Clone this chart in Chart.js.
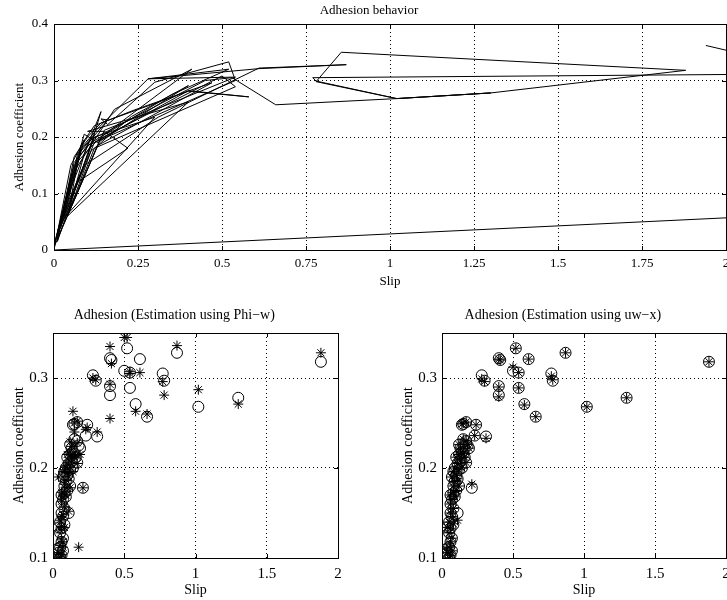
<!DOCTYPE html>
<html>
<head>
<meta charset="utf-8">
<script src="https://cdn.jsdelivr.net/npm/chart.js@4/dist/chart.umd.min.js"></script>
<style>
  html, body { margin: 0; padding: 0; background: #fff; overflow: hidden; }
  body { width: 727px; height: 600px; position: relative; }
  canvas { position: absolute; }
  #topChart { left: 0; top: 0; }
  #leftChart { left: 0; top: 300px; }
  #rightChart { left: 360px; top: 300px; }
</style>
</head>
<body>
<canvas id="topChart" width="780" height="300"></canvas>
<canvas id="leftChart" width="391" height="300"></canvas>
<canvas id="rightChart" width="448" height="300"></canvas>
<script>
// top plot: the measured slip / adhesion trajectory, in time order
const pathSlip = [
  2.60, 0.00, 0.05, 0.09, 0.02, 0.07, 0.12, 0.01, 0.06, 0.10,
  0.14, 0.40, 0.58, 0.40, 0.12, 0.03, 0.08, 0.13, 0.28, 0.54,
  0.15, 0.00, 0.05, 0.11, 0.18, 0.41, 0.14, 0.04, 0.09, 0.14,
  0.10, 0.02, 0.06, 0.13, 0.50, 0.54, 0.12, 0.07, 0.01, 0.08,
  0.16, 0.14, 0.16, 0.30, 0.52, 0.54, 0.10, 0.03, 0.09, 0.13,
  0.40, 0.23, 0.11, 0.04, 0.40, 0.10, 0.15, 0.22, 0.07, 0.02,
  0.30, 0.12, 0.05, 0.08, 0.12, 0.24, 0.47, 0.13, 0.01, 0.06,
  0.11, 0.35, 0.52, 0.28, 0.61, 0.87, 0.61, 0.31, 0.09, 0.00,
  0.07, 0.11, 0.45, 0.53, 0.66, 1.02, 1.30, 1.02, 1.30, 1.88,
  0.855, 0.78, 1.02, 0.78, 0.77, 2.30, 1.94
];
const pathAdh = [
  0.074, 0.000, 0.150, 0.195, 0.040, 0.170, 0.205, 0.015, 0.165, 0.200,
  0.225, 0.281, 0.271, 0.282, 0.190, 0.060, 0.180, 0.215, 0.303, 0.306,
  0.212, 0.005, 0.130, 0.185, 0.249, 0.320, 0.200, 0.060, 0.170, 0.245,
  0.165, 0.055, 0.150, 0.195, 0.308, 0.289, 0.180, 0.105, 0.030, 0.175,
  0.230, 0.232, 0.222, 0.297, 0.333, 0.300, 0.185, 0.080, 0.205, 0.190,
  0.291, 0.236, 0.175, 0.060, 0.262, 0.210, 0.210, 0.180, 0.120, 0.050,
  0.235, 0.200, 0.090, 0.185, 0.220, 0.248, 0.296, 0.185, 0.020, 0.155,
  0.190, 0.275, 0.320, 0.303, 0.321, 0.328, 0.322, 0.235, 0.150, 0.010,
  0.160, 0.195, 0.300, 0.305, 0.257, 0.268, 0.278, 0.268, 0.278, 0.318,
  0.350, 0.298, 0.268, 0.299, 0.305, 0.312, 0.362
];

// bottom plots: measured samples (circles) and the two estimators (stars)
const slip = [
  0.28, 0.30, 0.40, 0.41, 0.40, 0.40, 0.50, 0.52, 0.54, 0.54,
  0.58, 0.61, 0.66, 0.77, 0.78, 0.87, 1.02, 1.30, 1.88, 0.31,
  0.23, 0.24, 0.17, 0.14, 0.15, 0.21, 0.18, 0.19, 0.17, 0.16,
  0.17, 0.15, 0.05, 0.06, 0.04, 0.07, 0.05, 0.06, 0.07, 0.05,
  0.06, 0.08, 0.05, 0.07, 0.06, 0.08, 0.06, 0.07, 0.09, 0.08,
  0.10, 0.08, 0.09, 0.11, 0.10, 0.08, 0.12, 0.09, 0.11, 0.13,
  0.10, 0.12, 0.14, 0.13, 0.12, 0.04, 0.03, 0.11, 0.12, 0.14,
  0.06, 0.07, 0.15
];
const adhesion = [
  0.303, 0.297, 0.322, 0.320, 0.291, 0.281, 0.308, 0.333, 0.306, 0.289,
  0.271, 0.321, 0.257, 0.305, 0.297, 0.328, 0.268, 0.278, 0.318, 0.235,
  0.236, 0.248, 0.251, 0.248, 0.249, 0.178, 0.225, 0.222, 0.230, 0.212,
  0.206, 0.232, 0.100, 0.103, 0.106, 0.108, 0.112, 0.118, 0.122, 0.128,
  0.133, 0.137, 0.140, 0.146, 0.150, 0.155, 0.160, 0.165, 0.168, 0.172,
  0.175, 0.180, 0.185, 0.188, 0.192, 0.196, 0.198, 0.200, 0.205, 0.208,
  0.212, 0.215, 0.218, 0.222, 0.226, 0.134, 0.110, 0.150, 0.180, 0.200,
  0.170, 0.190, 0.216
];
const phiEst = [
  0.300, 0.298, 0.335, 0.316, 0.293, 0.255, 0.345, 0.345, 0.307, 0.305,
  0.263, 0.306, 0.260, 0.296, 0.281, 0.336, 0.287, 0.271, 0.328, 0.240,
  0.243, 0.245, 0.252, 0.263, 0.250, 0.178, 0.112, 0.215, 0.228, 0.214,
  0.205, 0.240, 0.101, 0.104, 0.106, 0.112, 0.114, 0.121, 0.118, 0.131,
  0.135, 0.134, 0.142, 0.148, 0.146, 0.157, 0.163, 0.168, 0.170, 0.171,
  0.178, 0.182, 0.187, 0.190, 0.195, 0.198, 0.201, 0.203, 0.208, 0.211,
  0.215, 0.218, 0.215, 0.224, 0.229, 0.190, 0.104, 0.152, 0.178, 0.196,
  0.173, 0.196, 0.213
];
const uwEst = [
  0.299, 0.296, 0.321, 0.320, 0.290, 0.279, 0.312, 0.333, 0.306, 0.289,
  0.270, 0.321, 0.257, 0.302, 0.298, 0.328, 0.268, 0.278, 0.318, 0.233,
  0.236, 0.248, 0.251, 0.249, 0.250, 0.182, 0.226, 0.222, 0.230, 0.212,
  0.206, 0.232, 0.100, 0.103, 0.106, 0.108, 0.112, 0.118, 0.122, 0.128,
  0.133, 0.138, 0.140, 0.146, 0.150, 0.155, 0.160, 0.165, 0.168, 0.173,
  0.175, 0.180, 0.185, 0.188, 0.192, 0.196, 0.198, 0.200, 0.205, 0.208,
  0.212, 0.215, 0.218, 0.222, 0.226, 0.134, 0.110, 0.142, 0.180, 0.200,
  0.170, 0.190, 0.216
];

const topXTicks = [0, 0.25, 0.5, 0.75, 1, 1.25, 1.5, 1.75, 2];
const topYTicks = [0, 0.1, 0.2, 0.3, 0.4];
const lowXTicks = [0, 0.5, 1, 1.5, 2];
const lowYTicks = [0.1, 0.2, 0.3];

const serif = "'Liberation Serif', 'DejaVu Serif', serif";

function pts(xs, ys) {
  return xs.map((x, i) => ({ x: x, y: ys[i] }));
}

// matlab style box with small inward ticks on all four sides
const boxPlugin = {
  id: 'box',
  afterDraw(chart) {
    const { ctx, chartArea: a, scales } = chart;
    ctx.save();
    ctx.strokeStyle = '#000';
    ctx.lineWidth = 1;
    ctx.strokeRect(Math.round(a.left) + 0.5, Math.round(a.top) + 0.5,
      Math.round(a.right - a.left), Math.round(a.bottom - a.top));
    ctx.beginPath();
    scales.x.ticks.forEach(t => {
      const x = Math.round(scales.x.getPixelForValue(t.value)) + 0.5;
      ctx.moveTo(x, a.bottom); ctx.lineTo(x, a.bottom - 4);
      ctx.moveTo(x, a.top); ctx.lineTo(x, a.top + 4);
    });
    scales.y.ticks.forEach(t => {
      const y = Math.round(scales.y.getPixelForValue(t.value)) + 0.5;
      ctx.moveTo(a.left, y); ctx.lineTo(a.left + 4, y);
      ctx.moveTo(a.right, y); ctx.lineTo(a.right - 4, y);
    });
    ctx.stroke();
    ctx.restore();
  }
};

function axis(opts) {
  return {
    type: 'linear',
    min: opts.min,
    max: opts.max,
    afterBuildTicks: s => { s.ticks = opts.ticks.map(v => ({ value: v })); },
    afterFit: s => {
      if (opts.width) s.width = opts.width;
      if (opts.height) s.height = opts.height;
      s.paddingLeft = 0; s.paddingRight = 0; s.paddingTop = 0; s.paddingBottom = 0;
    },
    ticks: {
      color: '#000',
      padding: opts.pad,
      autoSkip: false,
      maxRotation: 0,
      font: { family: serif, size: opts.tickSize },
      callback: v => String(v)
    },
    grid: { color: '#000', lineWidth: 1, drawTicks: false },
    border: { display: false, dash: [1, 3] },
    title: {
      display: true,
      text: opts.title,
      color: '#000',
      padding: 0,
      font: { family: serif, size: opts.titleSize }
    }
  };
}

new Chart(document.getElementById('topChart'), {
  type: 'scatter',
  data: {
    datasets: [{
      data: pts(pathSlip, pathAdh),
      showLine: true,
      borderColor: '#000',
      borderWidth: 1,
      pointRadius: 0,
      tension: 0,
      clip: 0
    }]
  },
  options: {
    responsive: false,
    animation: false,
    events: [],
    layout: { padding: { left: 12, right: 54, top: 0, bottom: 11 } },
    plugins: {
      legend: { display: false },
      tooltip: { enabled: false },
      title: {
        display: true,
        text: 'Adhesion behavior',
        color: '#000',
        font: { family: serif, size: 13, weight: 'normal' },
        padding: { top: 2.4, bottom: 6 }
      }
    },
    scales: {
      x: axis({ min: 0, max: 2, ticks: topXTicks, height: 39, pad: 6, tickSize: 13, title: 'Slip', titleSize: 13 }),
      y: axis({ min: 0, max: 0.4, ticks: topYTicks, width: 42, pad: 6, tickSize: 13, title: 'Adhesion coefficient', titleSize: 13 })
    }
  },
  plugins: [boxPlugin]
});

function lowerChart(id, title, est, padLeft, padRight) {
  const circles = [], stars = [];
  slip.forEach((s, i) => {
    circles.push({ x: s, y: adhesion[i] });
    stars.push({ x: s, y: est[i] });
  });
  return new Chart(document.getElementById(id), {
    type: 'scatter',
    data: {
      datasets: [
        {
          data: circles,
          pointStyle: 'circle',
          pointRadius: 5.5,
          borderColor: '#000',
          backgroundColor: 'rgba(0,0,0,0)',
          borderWidth: 1
        },
        {
          data: stars,
          pointStyle: 'star',
          pointRadius: 5,
          borderColor: '#000',
          backgroundColor: 'rgba(0,0,0,0)',
          borderWidth: 1
        }
      ]
    },
    options: {
      responsive: false,
      animation: false,
      events: [],
      layout: { padding: { left: padLeft, right: padRight, top: 0, bottom: 1.6 } },
      plugins: {
        legend: { display: false },
        tooltip: { enabled: false },
        title: {
          display: true,
          text: title,
          color: '#000',
          font: { family: serif, size: 14, weight: 'normal' },
          padding: { top: 6.6, bottom: 9.6 }
        }
      },
      scales: {
        x: axis({ min: 0, max: 2, ticks: lowXTicks, height: 40.4, pad: 7, tickSize: 15, title: 'Slip', titleSize: 14 }),
        y: axis({ min: 0.1, max: 0.35, ticks: lowYTicks, width: 42.4, pad: 5, tickSize: 15, title: 'Adhesion coefficient', titleSize: 14 })
      }
    },
    plugins: [boxPlugin]
  });
}

lowerChart('leftChart', 'Adhesion (Estimation using Phi\u2212w)', phiEst, 10.6, 53);
lowerChart('rightChart', 'Adhesion (Estimation using uw\u2212x)', uwEst, 39.6, 82);
</script>
</body>
</html>
